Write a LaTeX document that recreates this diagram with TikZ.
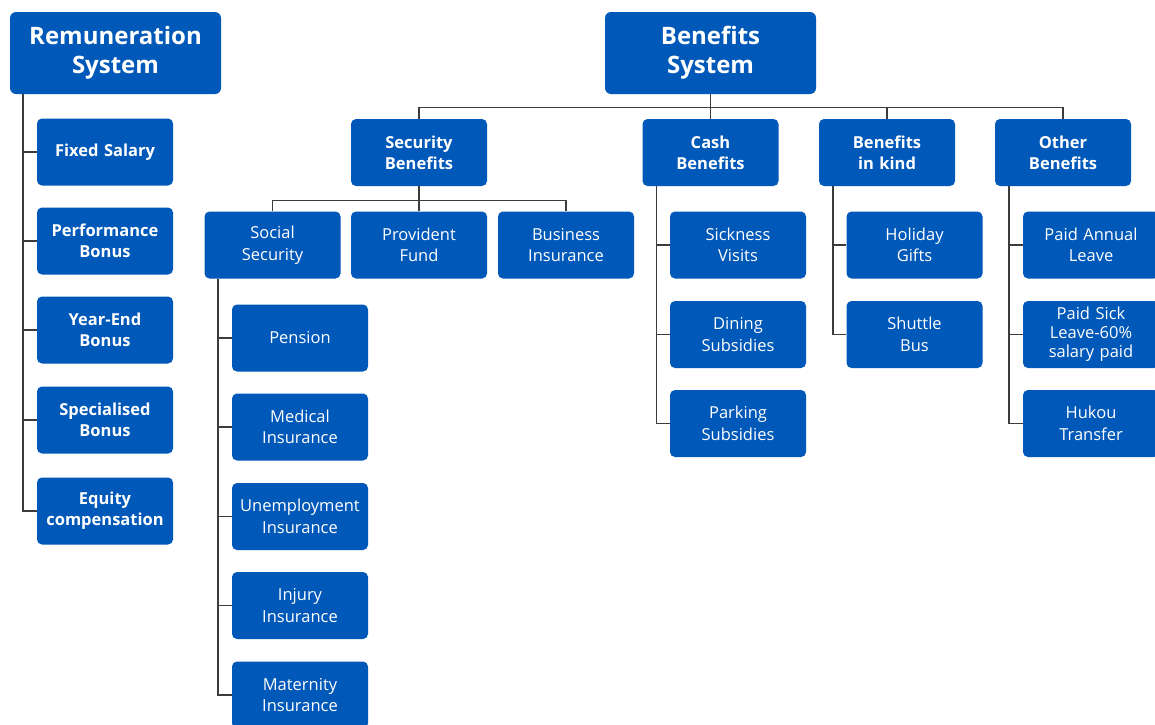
\documentclass[tikz,border=0pt]{standalone}
\usepackage{fontspec}
\setmainfont{Open Sans}
\usetikzlibrary{positioning}
\definecolor{hrblue}{RGB}{0,88,184}
\definecolor{linegray}{RGB}{60,60,60}
\tikzstyle{head} = [rectangle, fill=hrblue, text=white, rounded corners=6pt, minimum width=211pt, minimum height=82pt, inner sep=0pt, text width=200pt, align=center, font=\fontsize{24}{29}\selectfont\bfseries]
\tikzstyle{cat} = [rectangle, fill=hrblue, text=white, rounded corners=5pt, minimum width=136pt, minimum height=67pt, inner sep=0pt, text width=130pt, align=center, font=\fontsize{16.5}{21}\selectfont\bfseries]
\tikzstyle{leaf} = [cat, font=\fontsize{16.5}{21.5}\selectfont]
\tikzstyle{conn} = [draw=linegray, line width=1.4pt]

\begin{document}
\begin{tikzpicture}[x=1pt, y=-1pt]
  \useasboundingbox (0,0) rectangle (1155,724);
  \clip (0,0) rectangle (1155,724);
  % remuneration side
  \node [head] (rem)     at (115.5,53) {Remuneration\\System};
  \node [cat]  (fixed)   at (105,152)  {Fixed Salary};
  \node [cat]  (perf)    at (105,241)  {Performance\\Bonus};
  \node [cat]  (yearend) at (105,330)  {Year-End\\Bonus};
  \node [cat]  (special) at (105,420)  {Specialised\\Bonus};
  \node [cat]  (equity)  at (105,511)  {Equity\\compensation};
  \foreach \c in {fixed,perf,yearend,special,equity}
    \path [conn] ([xshift=13pt]rem.south west) |- (\c.west);
  % benefits side
  \node [head] (bsys)     at (710.5,53) {Benefits\\System};
  \node [cat]  (secben)   at (419,152.5) {Security\\Benefits};
  \node [cat]  (cashben)  at (710.5,152.5) {Cash\\Benefits};
  \node [cat]  (kindben)  at (887,152.5) {Benefits\\in kind};
  \node [cat]  (otherben) at (1063,152.5) {Other\\Benefits};
  \foreach \c in {secben,cashben,kindben,otherben}
    \path [conn] (bsys.south) -- ++(0,13) -| (\c.north);
  % security benefits
  \node [leaf] (social)    at (272.5,245) {Social\\Security};
  \node [leaf] (provident) at (419,245)   {Provident\\Fund};
  \node [leaf] (business)  at (566,245)   {Business\\Insurance};
  \foreach \c in {social,provident,business}
    \path [conn] (secben.south) -- ++(0,14) -| (\c.north);
  \node [leaf] (pension)   at (300,338) {Pension};
  \node [leaf] (medical)   at (300,427) {Medical\\Insurance};
  \node [leaf] (unemp)     at (300,516.5) {Unemployment\\Insurance};
  \node [leaf] (injury)    at (300,605.5) {Injury\\Insurance};
  \node [leaf] (maternity) at (300,695) {Maternity\\Insurance};
  \foreach \c in {pension,medical,unemp,injury,maternity}
    \path [conn] ([xshift=13.5pt]social.south west) |- (\c.west);
  % cash benefits
  \node [leaf] (sickness) at (738,245)   {Sickness\\Visits};
  \node [leaf] (dining)   at (738,334.5) {Dining\\Subsidies};
  \node [leaf] (parking)  at (738,423.5) {Parking\\Subsidies};
  \foreach \c in {sickness,dining,parking}
    \path [conn] ([xshift=14pt]cashben.south west) |- (\c.west);
  % benefits in kind
  \node [leaf] (holiday) at (914.5,245)   {Holiday\\Gifts};
  \node [leaf] (shuttle) at (914.5,334.5) {Shuttle\\Bus};
  \foreach \c in {holiday,shuttle}
    \path [conn] ([xshift=14pt]kindben.south west) |- (\c.west);
  % other benefits
  \node [leaf] (annual) at (1091,245)   {Paid Annual\\Leave};
  \node [leaf, font=\fontsize{16.5}{19}\selectfont] (sick) at (1091,334.5) {Paid Sick\\Leave-60\%\\salary paid};
  \node [leaf] (hukou)  at (1091,423.5) {Hukou\\Transfer};
  \foreach \c in {annual,sick,hukou}
    \path [conn] ([xshift=14pt]otherben.south west) |- (\c.west);
\end{tikzpicture}
\end{document}
